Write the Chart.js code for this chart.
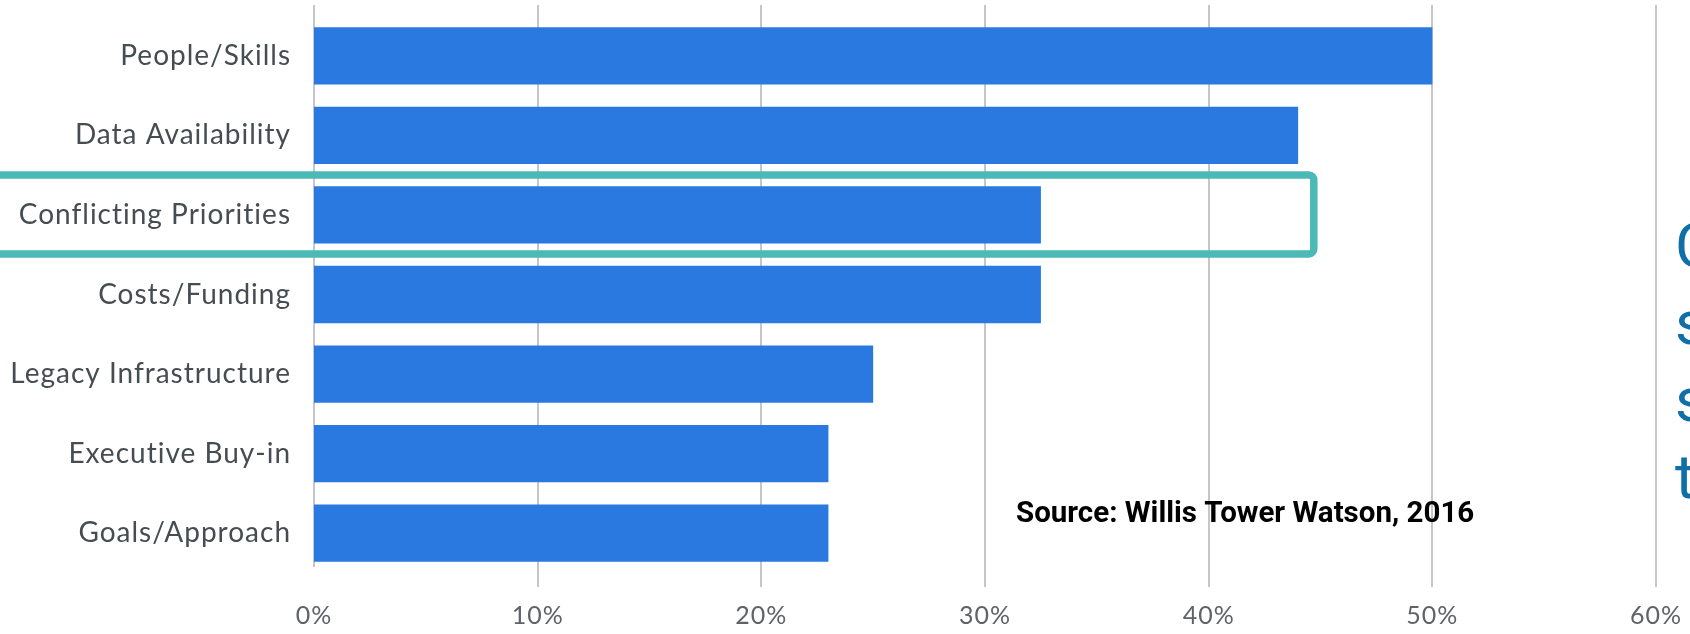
<!DOCTYPE html>
<html>
<head>
<meta charset="utf-8">
<script src="https://cdn.jsdelivr.net/npm/chart.js@4/dist/chart.umd.min.js"></script>
<style>
  html, body { margin: 0; padding: 0; background: #fff; }
  #wrap { position: relative; width: 1690px; height: 634px; }
</style>
</head>
<body>
<div id="wrap"><canvas id="myChart" width="1690" height="634"></canvas></div>
<script>
const categories = [
  "People/Skills",
  "Data Availability",
  "Conflicting Priorities",
  "Costs/Funding",
  "Legacy Infrastructure",
  "Executive Buy-in",
  "Goals/Approach"
];
const shares = [50, 44, 32.5, 32.5, 25, 23, 23];
const xTicks = [0, 10, 20, 30, 40, 50, 60];
const sourceNote = "Source: Willis Tower Watson, 2016";
const sideText = ["C", "s", "s", "t"];
const highlighted = "Conflicting Priorities";

// labels in the original are loosely spaced
const spacingPlugin = {
  id: "spacing",
  beforeDraw(chart) {
    chart.ctx.letterSpacing = "1px";
  }
};

// gridlines run past the plot area (top and the small tick stubs below)
const gridPlugin = {
  id: "grid",
  beforeDatasetsDraw(chart) {
    const ctx = chart.ctx;
    const x = chart.scales.x;
    ctx.save();
    ctx.strokeStyle = "#c4c7ca";
    ctx.lineWidth = 2;
    xTicks.forEach((v) => {
      const px = Math.round(x.getPixelForValue(v));
      ctx.beginPath();
      ctx.moveTo(px, 5);
      ctx.lineTo(px, v === 0 ? 567 : 587);
      ctx.stroke();
    });
    ctx.restore();
  }
};

const notesPlugin = {
  id: "notes",
  afterDraw(chart) {
    const ctx = chart.ctx;
    const y = chart.scales.y;
    const x = chart.scales.x;
    ctx.save();
    ctx.letterSpacing = "0px";

    // teal box round the highlighted row
    const idx = categories.indexOf(highlighted);
    const cy = y.getPixelForValue(idx);
    ctx.strokeStyle = "#4bb9b5";
    ctx.lineWidth = 7.5;
    ctx.beginPath();
    ctx.roundRect(-20, cy - 40, x.getPixelForValue(44.7) + 20, 79, 5);
    ctx.stroke();

    // source line
    ctx.fillStyle = "#000";
    ctx.font = "bold 29.5px Roboto";
    ctx.textBaseline = "alphabetic";
    ctx.fillText(sourceNote, 1016, 522);

    // cut-off text on the right edge
    ctx.fillStyle = "#0f6fa7";
    ctx.font = "62px Roboto";
    sideText.forEach((t, i) => ctx.fillText(t, 1675, 267 + i * 77));
    ctx.restore();
  }
};

new Chart("myChart", {
  type: "bar",
  data: {
    labels: categories,
    datasets: [
      {
        data: shares,
        backgroundColor: "#2979e1",
        barPercentage: 0.72,
        categoryPercentage: 1
      }
    ]
  },
  options: {
    indexAxis: "y",
    responsive: false,
    animation: false,
    layout: { padding: { top: 16, right: 34, left: 0, bottom: 0 } },
    plugins: { legend: { display: false }, tooltip: { enabled: false } },
    scales: {
      x: {
        min: 0,
        max: 60,
        afterBuildTicks: (s) => { s.ticks = xTicks.map((v) => ({ value: v })); },
        afterFit: (s) => {
          s.height = 61;
          s.paddingLeft = 0;
          s.paddingRight = 0;
        },
        grid: { display: false },
        border: { display: false },
        ticks: {
          padding: 20,
          color: "#5f6368",
          font: { family: "Lato", size: 25 },
          callback: (v) => v + "%"
        }
      },
      y: {
        afterFit: (s) => {
          s.width = 314;
          s.paddingTop = 0;
          s.paddingBottom = 0;
        },
        grid: { display: false },
        border: { display: false },
        ticks: {
          padding: 15,
          color: "#464d52",
          font: { family: "Lato", size: 28 }
        }
      }
    }
  },
  plugins: [spacingPlugin, gridPlugin, notesPlugin]
});
</script>
</body>
</html>
